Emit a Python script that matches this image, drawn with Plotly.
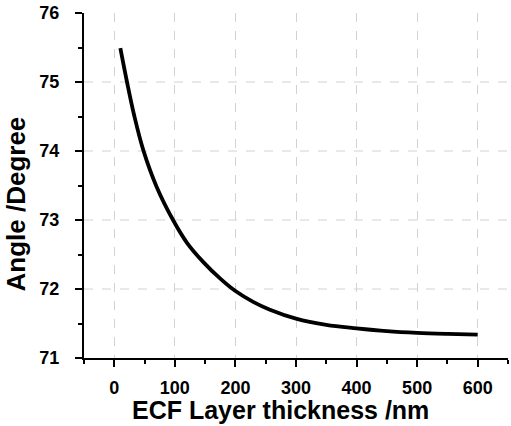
import plotly.graph_objects as go

thickness_nm = [10, 21, 33, 48, 70, 97, 120, 147, 175, 200, 230, 257, 300, 350, 400, 450, 500, 550, 600]
angle_deg = [75.49, 75.0, 74.51, 74.01, 73.48, 73.0, 72.67, 72.39, 72.15, 71.97, 71.81, 71.70, 71.57, 71.48, 71.43, 71.39, 71.365, 71.35, 71.34]

x_ticks = [0, 100, 200, 300, 400, 500, 600]
y_ticks = [71, 72, 73, 74, 75, 76]
y_grid = [72, 73, 74, 75]
x_title = "ECF Layer thickness /nm"
y_title = "Angle /Degree"

fig = go.Figure()
fig.add_trace(go.Scatter(x=thickness_nm, y=angle_deg, mode="lines",
                         line=dict(color="black", width=3.8, shape="spline", smoothing=1.0),
                         showlegend=False))

for g in y_grid:
    fig.add_shape(type="line", xref="x domain", yref="y", x0=0, x1=1, y0=g, y1=g,
                  line=dict(color="#d2d2d2", width=1, dash="dash"), layer="below")

font_bold = dict(family="Arial, Liberation Sans, sans-serif", color="black", weight="bold")

fig.add_annotation(text=f"<b>{x_title}</b>", xref="paper", yref="paper",
                   x=0.4634, y=-0.152, xanchor="center", yanchor="middle",
                   showarrow=False, font=dict(size=25, **font_bold))
fig.add_annotation(text=f"<b>{y_title}</b>", xref="paper", yref="paper",
                   x=-0.1615, y=0.4464, xanchor="center", yanchor="middle", textangle=-90,
                   showarrow=False, font=dict(size=26, **font_bold))

fig.update_layout(
    width=511, height=426,
    margin=dict(l=84, r=3, t=13, b=68),
    plot_bgcolor="white", paper_bgcolor="white",
    xaxis=dict(range=[-50, 650], tickvals=x_ticks, ticktext=[f"<b>{v}</b>" for v in x_ticks],
               showline=True, linecolor="black", linewidth=2,
               ticks="outside", ticklen=7, tickwidth=2, tickcolor="black",
               minor=dict(dtick=50, tick0=0, ticks="outside", ticklen=4, tickwidth=1.5, tickcolor="black", showgrid=False),
               showgrid=True, gridcolor="#d2d2d2", griddash="dash", gridwidth=1,
               zeroline=False, automargin=False, ticklabelstandoff=5,
               tickfont=dict(size=18, **font_bold)),
    yaxis=dict(range=[71, 76], tickvals=y_ticks, ticktext=[f"<b>{v}</b>" for v in y_ticks],
               showline=True, linecolor="black", linewidth=2,
               ticks="outside", ticklen=7, tickwidth=2, tickcolor="black",
               minor=dict(dtick=0.5, tick0=71, ticks="outside", ticklen=4, tickwidth=1.5, tickcolor="black", showgrid=False),
               showgrid=False, zeroline=False, automargin=False, ticklabelstandoff=12,
               tickfont=dict(size=18, **font_bold)),
)

fig.write_html("out.html")
